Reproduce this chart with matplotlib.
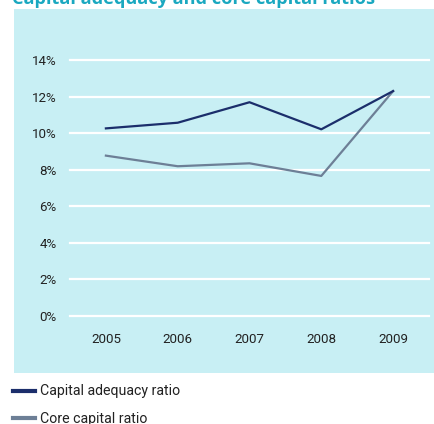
import numpy as np
import matplotlib.pyplot as plt
from matplotlib.patches import Rectangle
from matplotlib.lines import Line2D

# Ratios in percent, 2005-2009
years = [2005, 2006, 2007, 2008, 2009]
capital_adequacy = [10.26, 10.57, 11.69, 10.21, 12.30]
core_capital = [8.77, 8.19, 8.35, 7.66, 12.30]
y_ticks = [0, 2, 4, 6, 8, 10, 12, 14]

navy = "#1b2e6b"
slate = "#6d7f96"
panel = "#c8eff4"
teal = "#1aa8c0"

plt.rcParams['font.family'] = ['Roboto', 'DejaVu Sans']

W, H = 435, 424
fig = plt.figure(figsize=(W / 100, H / 100), dpi=100)

# light blue box behind the chart area
fig.patches.append(Rectangle((14 / W, 1 - 373 / H), 1 - 14 / W, (373 - 9) / H,
                             transform=fig.transFigure, facecolor=panel,
                             edgecolor="none", zorder=-5))

# heading runs off the top edge
fig.text(12 / W, 1 - 4 / H, "Capital adequacy and core capital ratios",
         family=['Open Sans', 'DejaVu Sans'], color=teal, fontsize=13.1,
         fontweight="bold", va="baseline", ha="left")

ax = fig.add_axes([70 / W, 1 - 316 / H, (429 - 70) / W, (316 - 60) / H])
ax.set_facecolor("none")
for s in ax.spines.values():
    s.set_visible(False)

# white gridlines, incl. the ones on the edges
for t in y_ticks:
    ax.axhline(t, color="white", lw=1.6, clip_on=False, zorder=1)

ax.plot(years, core_capital, color=slate, lw=1.6, zorder=3)
ax.plot(years, capital_adequacy, color=navy, lw=1.6, zorder=4)

ax.set_xlim(2004.5, 2009.5)
ax.set_ylim(0, 14)
ax.set_xticks(years)
ax.set_xticklabels([str(y) for y in years])
ax.set_yticks(y_ticks)
ax.set_yticklabels([f"{t}%" for t in y_ticks])
ax.tick_params(axis="both", length=0, labelsize=9.6, colors="#222222")
ax.tick_params(axis="y", pad=9.5)
ax.tick_params(axis="x", pad=12.5)

handles = [Line2D([], [], color=navy, lw=3), Line2D([], [], color=slate, lw=3)]
fig.legend(handles, ["Capital adequacy ratio", "Core capital ratio"],
           loc="upper left", bbox_to_anchor=(13.3 / W, 1 - 384.5 / H),
           frameon=False, fontsize=10.2, handlelength=1.55, handletextpad=0.3,
           labelspacing=0.92, borderpad=0, borderaxespad=0, labelcolor="#222222")

fig.savefig("out.png", dpi=100)
